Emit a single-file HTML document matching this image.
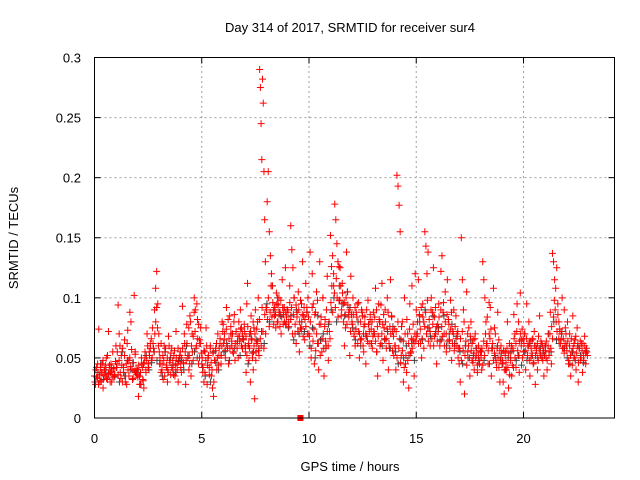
<!DOCTYPE html>
<html><head><meta charset="utf-8"><style>
html,body{margin:0;padding:0;background:#fff;}
svg{display:block;font-family:"Liberation Sans",sans-serif;}
</style></head><body>
<svg id="chart" width="640" height="480" viewBox="0 0 640 480">
<text x="350" y="32" text-anchor="middle" font-size="13">Day 314 of 2017, SRMTID for receiver sur4</text>
<text x="350" y="471" text-anchor="middle" font-size="13">GPS time / hours</text>
<text transform="translate(18,238) rotate(-90)" text-anchor="middle" font-size="13">SRMTID / TECUs</text>
<g id="grid"></g>
<g id="ticks"></g>
<g id="black"></g>
<g id="red"></g>
<rect x="94.5" y="57.5" width="520" height="360.5" fill="none" stroke="#000" stroke-width="1"/>
</svg>
<script>
// Data (milli-TECU), grouped by hour of day; points spread evenly within the hour
const xTicks = [0, 5, 10, 15, 20];
const yTicks = [0, 0.05, 0.1, 0.15, 0.2, 0.25, 0.3];
const yTickLabels = ["0", "0.05", "0.1", "0.15", "0.2", "0.25", "0.3"];
const redHourStart = [0,1,2,3,4,5,6,7,8,9,10,11,12,13,14,15,16,17,18,19,20,21,22];
const redMilliTecu = [
[35,28,42,33,74,30,38,45,25,40,36,50,32,72,44,38,30,55,41,35],
[60,45,94,70,38,52,30,42,65,35,28,73,48,88,80,40,33,102,55,38],
[40,18,35,28,45,32,25,50,38,70,42,55,62,48,75,58,90,108,122,95],
[70,50,38,45,32,60,55,42,30,68,48,36,58,40,52,35,72,45,30,50],
[55,38,93,45,62,28,78,50,40,85,35,70,48,100,90,60,82,45,65,75],
[45,38,30,55,75,28,50,42,60,35,25,18,48,58,40,70,52,62,45,80],
[78,65,50,92,58,45,85,70,60,55,80,48,72,62,50,68,90,75,58,65],
[72,55,38,95,112,60,48,70,30,85,65,50,40,75,16,90,55,62,80,100,52,290,275,245,215,282,262,205,165,130],
[92,180,205,155,135,120,110,90,85,75,95,80,100,88,70,115,78,92,125,84],
[90,80,110,160,140,125,100,70,62,88,105,55,75,95,130,85,65,112,92,100],
[70,138,50,120,95,45,88,105,62,40,130,78,55,100,35,82,60,118,48,72],
[152,126,135,110,178,165,145,130,98,125,85,112,95,60,75,138,105,88,52,118],
[80,100,70,60,88,95,72,50,65,90,85,55,78,45,68,98,62,82,74,58],
[88,70,108,55,35,95,80,62,112,48,75,90,66,100,40,58,115,85,72,52],
[60,40,202,193,177,155,52,80,30,100,45,38,70,25,95,55,110,65,35,120],
[90,70,115,85,62,50,95,80,155,143,120,138,75,60,100,88,125,68,92,45],
[78,95,60,122,135,88,70,105,55,115,82,65,98,48,72,90,60,85,70,50],
[45,30,150,115,90,20,60,105,55,75,35,80,48,65,40,70,52,38,60,45],
[55,40,130,115,100,80,62,45,70,92,35,58,108,75,50,42,88,65,30,60],
[45,30,20,55,40,80,25,62,48,35,58,86,70,42,95,52,38,104,65,50],
[55,70,40,95,60,80,35,50,65,45,72,28,58,40,68,85,52,62,48,35],
[60,50,40,70,55,88,45,137,130,115,108,125,95,80,72,65,100,58,90,75],
[60,80,45,70,35,55,85,50,65,40,75,30,58,48,62,38,52,68,45,55]
];
const redMilliTecuB = [
[30,40,34,45,28,36,42,31,38,48,35,40,44,33,52,37,42,30,45,39,34,41,36,47],
[42,55,36,48,60,33,44,58,38,52,30,45,62,40,35,50,43,57,32,46,39,53,41,36],
[34,44,28,38,50,42,31,46,55,40,48,60,45,52,58,66,50,62,55,70,80,92,75,60],
[55,45,62,40,52,48,35,58,44,50,38,60,46,54,42,48,36,56,44,50,40,58,47,52],
[42,50,58,46,70,55,48,62,52,75,45,80,60,55,68,88,72,58,95,66,78,50,62,54],
[50,42,56,38,48,60,44,52,36,58,46,40,54,30,48,56,62,50,44,58,66,52,60,72],
[62,70,56,74,60,82,66,58,76,64,70,54,86,62,72,58,68,80,64,74,60,70,66,78],
[60,68,52,76,62,58,72,66,54,80,60,70,48,74,64,56,82,66,60,92,72,58,86,70],
[90,82,100,76,88,110,84,96,78,92,86,104,80,94,88,76,98,84,92,86,80,88,78,90],
[88,76,96,82,92,70,86,100,78,94,84,72,90,80,98,74,86,68,92,82,76,88,70,84],
[68,80,58,92,64,74,86,56,70,98,62,78,52,84,66,100,58,76,64,90,72,60,80,66],
[96,110,88,120,104,92,116,100,84,126,98,110,90,104,80,96,86,100,78,94,84,90,72,86],
[78,86,68,92,74,84,62,96,70,80,66,88,60,76,84,70,90,64,78,72,86,62,80,68],
[72,84,64,90,76,68,82,60,94,70,78,86,66,80,58,74,88,62,76,70,84,56,68,74],
[60,72,50,80,58,66,46,76,56,64,42,70,52,82,48,62,74,54,66,58,78,62,70,64],
[68,80,62,86,74,92,66,84,58,76,88,70,98,64,82,72,90,66,78,60,84,70,76,64],
[72,84,64,90,76,68,96,60,80,70,86,64,78,58,74,88,62,70,56,76,66,60,72,58],
[58,66,48,72,56,80,52,64,44,70,60,50,68,56,62,46,54,66,50,58,44,52,48,56],
[50,58,44,64,52,70,60,84,56,96,66,74,58,62,48,54,70,46,58,50,42,56,48,54],
[48,56,40,52,46,58,42,54,36,50,60,44,56,66,50,62,72,56,80,64,70,60,74,66],
[62,70,56,66,52,60,48,64,58,54,66,46,60,52,56,62,48,58,54,64,50,60,56,52],
[56,64,48,60,52,70,58,76,66,84,98,90,80,72,86,66,74,62,70,58,66,54,62,70],
[56,64,48,60,52,66,44,58,62,50,68,54,60,46,58,64,50,56,62,48,60,54,58,52]
];
const blackMilliTecu = [
[30,38,45,32,40,36,42,34],[42,30,55,35,48,40,46,38],[38,28,45,52,40,46,55,48],[45,35,55,40,50,44,38,48],
[48,40,60,52,45,55,50,62],[42,35,50,30,55,46,40,52],[55,62,48,70,58,64,52,66],[60,45,70,55,65,58,72,62],
[95,80,110,90,100,85,92,78],[75,85,65,90,70,80,72,88],[60,75,50,85,65,70,58,78],[90,100,80,110,95,85,105,92],
[75,65,80,60,70,68,78,62],[70,55,80,60,65,72,58,76],[55,45,65,50,60,52,62,48],[70,80,65,90,75,68,85,72],
[75,65,85,60,70,78,62,68],[55,45,60,50,65,52,58,48],[55,48,62,45,58,52,60,50],[45,40,50,55,42,48,52,44],
[55,48,62,52,60,50,58,54],[60,70,55,80,65,62,72,58],[50,45,55,48,60,52,46,56]
];
const markerHour = [9.6];
const markerValue = [0];

const X0 = 94.5, PX_PER_HOUR = 21.45, Y0 = 418, PX_PER_TECU = 1201.7;
const xs = h => X0 + h * PX_PER_HOUR;
const ys = v => Y0 - v * PX_PER_TECU;
const NS = "http://www.w3.org/2000/svg";
function mk(tag, attrs, parent){ const e=document.createElementNS(NS,tag); for(const k in attrs) e.setAttribute(k,attrs[k]); parent.appendChild(e); return e; }

const grid=document.getElementById('grid'), ticks=document.getElementById('ticks');
xTicks.forEach(t=>{
  const x=xs(t);
  if(t>0){ const g=mk('line',{x1:x,y1:Y0,x2:x,y2:57.5,stroke:'#a0a0a0','stroke-dasharray':'2,3','stroke-width':1},grid);
    
     }
  const a=mk('line',{x1:x,y1:Y0,x2:x,y2:Y0-6,stroke:'#000'},ticks);
  
  
  const b=mk('line',{x1:x,y1:57.5,x2:x,y2:63.5,stroke:'#000'},ticks);
  
  
  const l=mk('text',{x:x,y:443,'text-anchor':'middle','font-size':13},ticks); l.textContent=String(t);
  
  
});
yTicks.forEach((t,i)=>{
  const y=ys(t);
  if(t>0 && t<0.3){ const g=mk('line',{x1:X0,y1:y,x2:614.5,y2:y,stroke:'#a0a0a0','stroke-dasharray':'2,3','stroke-width':1},grid);
    
     }
  const a=mk('line',{x1:X0,y1:y,x2:X0+6,y2:y,stroke:'#000'},ticks);
  
  
  const b=mk('line',{x1:614.5,y1:y,x2:608.5,y2:y,stroke:'#000'},ticks);
  
  
  const l=mk('text',{x:81,y:y+5,'text-anchor':'end','font-size':13},ticks); l.textContent=yTickLabels[i];
  
  
});

function plus(parent,h,v,color,name){
  const x=xs(h), y=ys(v);
  const p=mk('path',{d:`M${x-3.5},${y}H${x+3.5}M${x},${y-3.5}V${y+3.5}`,stroke:color,'stroke-width':1,fill:'none'},parent);
  
  
}
const blk=document.getElementById('black');
blackMilliTecu.forEach((arr,hi)=>arr.forEach((v,j)=>plus(blk,redHourStart[hi]+(j+0.3)/arr.length,v/1000,'#404040','black-point')));
const red=document.getElementById('red');
redMilliTecu.forEach((arr,hi)=>arr.forEach((v,j)=>plus(red,redHourStart[hi]+j/arr.length,v/1000,'#ff0000','red-point')));
redMilliTecuB.forEach((arr,hi)=>arr.forEach((v,j)=>plus(red,redHourStart[hi]+(j+0.5)/arr.length,v/1000,'#ff0000','red-point')));
markerHour.forEach((h,i)=>{
  const r=mk('rect',{x:xs(h)-3,y:ys(markerValue[i])-3,width:6,height:6,fill:'#ff0000'},red);
  
  
});
</script>
</body></html>
